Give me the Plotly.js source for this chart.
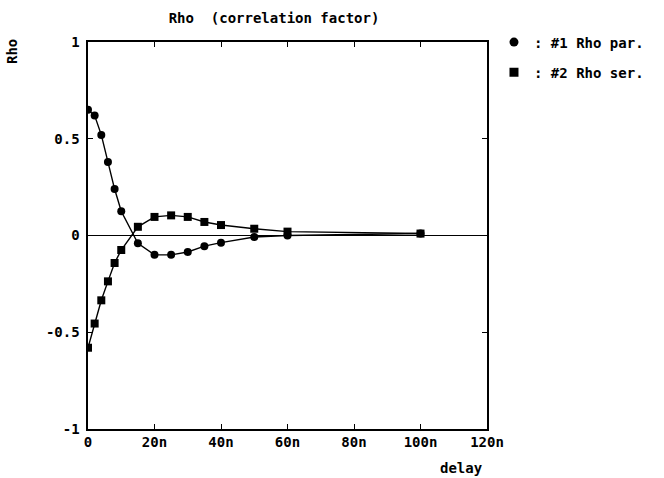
<!DOCTYPE html>
<html><head><meta charset="utf-8">
<script src="https://cdn.plot.ly/plotly-3.0.1.min.js"></script>
<style>html,body{margin:0;padding:0;background:#fff;}#c{width:664px;height:478px;}</style>
</head><body><div id="c"></div>
<script>
const delay = [0, 2, 4, 6, 8, 10, 15, 20, 25, 30, 35, 40, 50, 60, 100];
const rhoPar = [0.65, 0.62, 0.52, 0.38, 0.24, 0.125, -0.04, -0.10, -0.10, -0.085, -0.055, -0.037, -0.008, 0.0, 0.01];
const rhoSer = [-0.58, -0.455, -0.335, -0.237, -0.142, -0.075, 0.045, 0.096, 0.104, 0.096, 0.07, 0.054, 0.035, 0.02, 0.01];
const xTickVals = [0, 20, 40, 60, 80, 100, 120];
const xTickText = ['0', '20n', '40n', '60n', '80n', '100n', '120n'];
const yTickVals = [-1, -0.5, 0, 0.5, 1];
const yTickText = ['-1', '-0.5', '0', '0.5', '1'];
const seriesNames = [': #1 Rho par.', ': #2 Rho ser.'];

const F = 'DejaVu Sans Mono, monospace';
const traces = [
  {x: delay, y: rhoPar, mode: 'lines+markers', showlegend: false,
   line: {color: '#000', width: 1.4}, marker: {symbol: 'circle', size: 8, color: '#000'}},
  {x: delay, y: rhoSer, mode: 'lines+markers', showlegend: false,
   line: {color: '#000', width: 1.4}, marker: {symbol: 'square', size: 8, color: '#000'}},
  {x: [null], y: [null], mode: 'markers', name: seriesNames[0], legendgroup: 'a',
   marker: {symbol: 'circle', size: 9, color: '#000'}},
  {x: [null], y: [null], mode: 'markers', name: seriesNames[1], legendgroup: 'b',
   marker: {symbol: 'square', size: 9, color: '#000'}}
];
const layout = {
  width: 664, height: 478,
  margin: {l: 88, r: 177, t: 42, b: 49},
  paper_bgcolor: '#fff', plot_bgcolor: '#fff',
  font: {family: F, color: '#000', size: 14, weight: 'bold'},
  title: {text: 'Rho  (correlation factor)', x: 274/664, xanchor: 'center', y: 1 - 18/478, yanchor: 'middle',
          font: {family: F, size: 14, color: '#000', weight: 'bold'}},
  xaxis: {range: [0, 120], tickvals: xTickVals, ticktext: xTickText, ticks: 'inside', ticklen: 5,
          tickcolor: '#000', mirror: 'ticks', showline: true, linecolor: '#000', linewidth: 1.6,
          showgrid: false, zeroline: false, tickfont: {family: F, size: 14, weight: 'bold'}},
  yaxis: {range: [-1, 1], tickvals: yTickVals, ticktext: yTickText, ticks: 'inside', ticklen: 5,
          tickcolor: '#000', mirror: 'ticks', showline: true, linecolor: '#000', linewidth: 1.6,
          showgrid: false, zeroline: true, zerolinecolor: '#000', zerolinewidth: 1.4,
          ticklabelstandoff: 4, tickfont: {family: F, size: 14, weight: 'bold'}},
  legend: {x: 1.0175, xanchor: 'left', y: 1.04, yanchor: 'top', bgcolor: 'rgba(0,0,0,0)',
           font: {family: F, size: 14, weight: 'bold'}, tracegroupgap: 9, itemwidth: 30},
  annotations: [
    {text: 'Rho', xref: 'paper', yref: 'paper', x: (12 - 88) / 399, y: 1 - (52 - 42) / 387, textangle: -90, showarrow: false,
     xanchor: 'center', yanchor: 'middle', font: {family: F, size: 14, weight: 'bold'}},
    {text: 'delay', xref: 'paper', yref: 'paper', x: (461 - 88) / 399, y: -(468 - 429) / 387, showarrow: false,
     xanchor: 'center', yanchor: 'middle', font: {family: F, size: 14, weight: 'bold'}}
  ]
};
Plotly.newPlot('c', traces, layout, {displayModeBar: false, staticPlot: true});
</script></body></html>
